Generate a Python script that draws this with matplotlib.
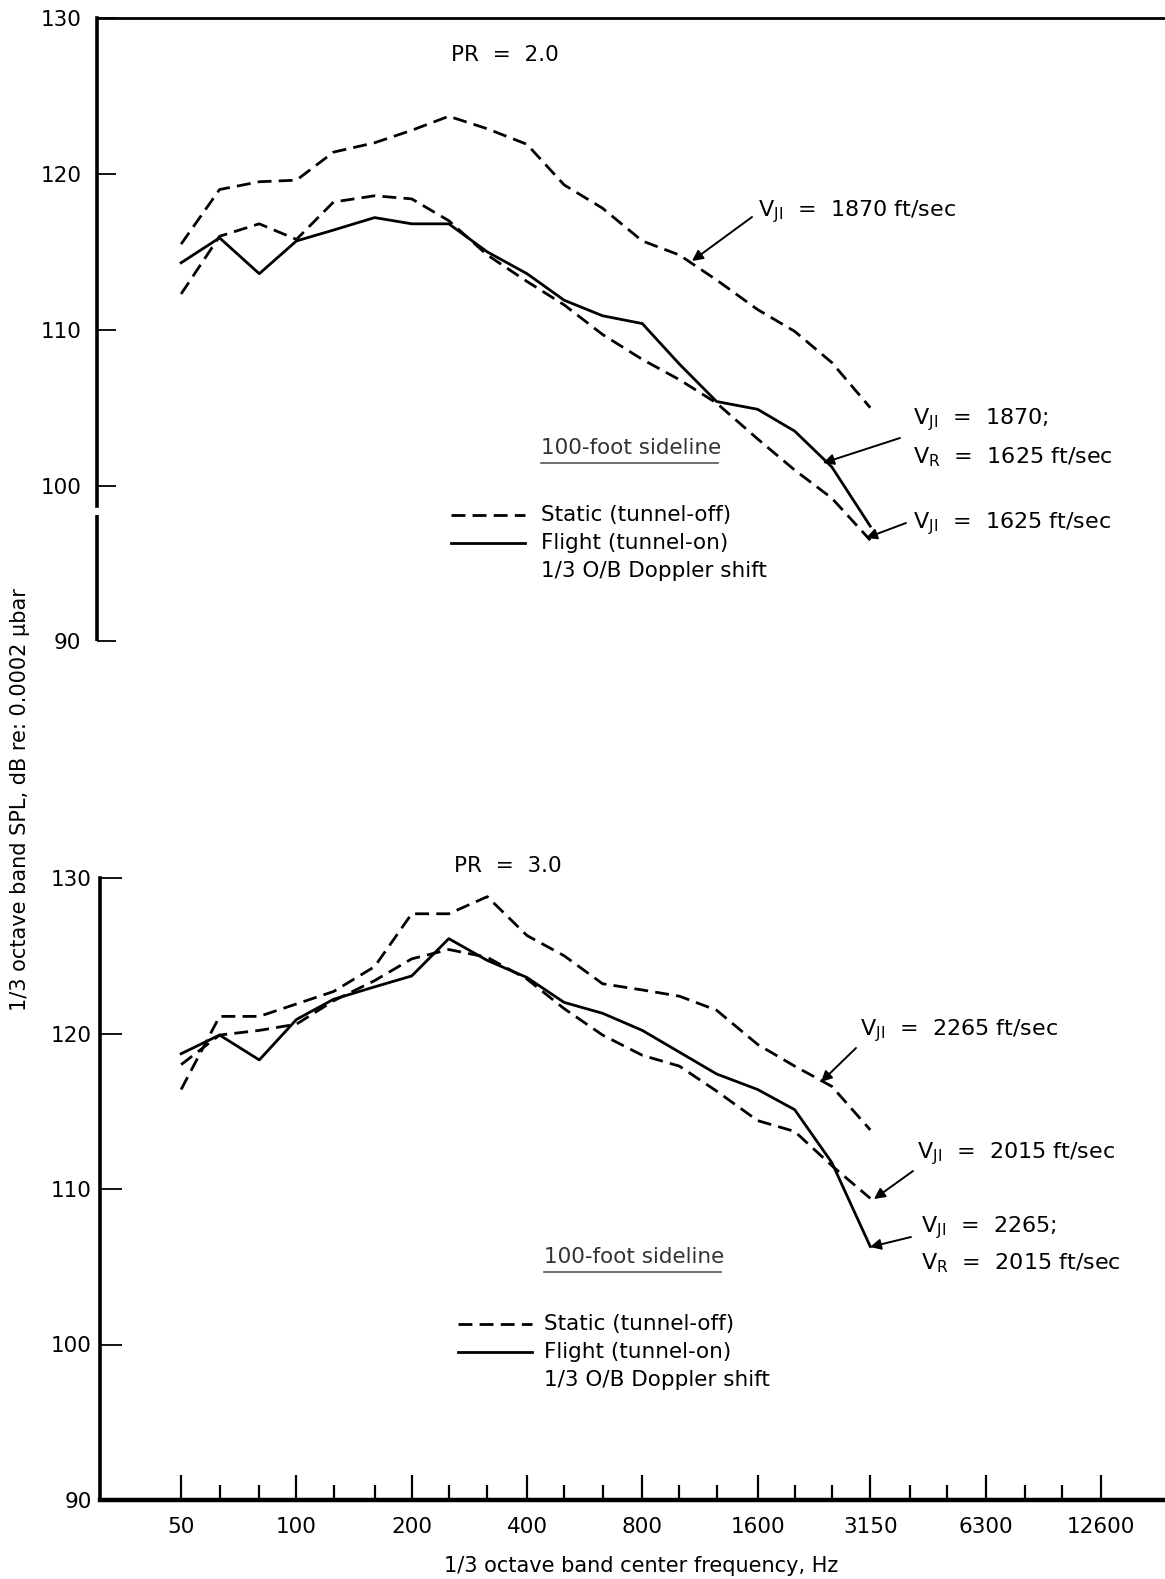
import matplotlib
matplotlib.use('Agg')
import matplotlib.pyplot as plt
from matplotlib.lines import Line2D
from matplotlib.ticker import FixedLocator, NullLocator, NullFormatter

plt.rcParams['font.family'] = ['DejaVu Sans']
plt.rcParams['mathtext.default'] = 'regular'

W, H = 1165, 1579

# 1/3 octave band centre frequencies, Hz
freq = [50, 63, 80, 100, 125, 160, 200, 250, 315, 400, 500, 630, 800, 1000, 1250, 1600, 2000, 2500, 3150]

# PR = 2.0
pr2_static_1870 = [115.5, 119.0, 119.5, 119.6, 121.4, 122.0, 122.8, 123.7, 122.9, 121.9, 119.3,
                   117.8, 115.7, 114.8, 113.2, 111.3, 109.9, 107.9, 105.0]
pr2_static_1625 = [112.3, 116.0, 116.8, 115.8, 118.2, 118.6, 118.4, 117.0, 114.8, 113.1, 111.6,
                   109.7, 108.1, 106.8, 105.3, 103.0, 101.0, 99.2, 96.5]
pr2_flight = [114.3, 115.9, 113.6, 115.7, 116.4, 117.2, 116.8, 116.8, 115.0, 113.6, 111.9,
              110.9, 110.4, 107.8, 105.4, 104.9, 103.5, 101.2, 97.4]

# PR = 3.0
pr3_static_2265 = [116.4, 121.1, 121.1, 121.9, 122.7, 124.3, 127.7, 127.7, 128.8, 126.3, 125.0,
                   123.2, 122.8, 122.4, 121.5, 119.3, 117.9, 116.6, 113.8]
pr3_static_2015 = [118.0, 119.9, 120.2, 120.6, 122.1, 123.4, 124.8, 125.4, 124.9, 123.5, 121.6,
                   119.9, 118.6, 117.9, 116.3, 114.4, 113.7, 111.5, 109.4]
pr3_flight = [118.7, 119.9, 118.3, 120.9, 122.2, 123.0, 123.7, 126.1, 124.7, 123.6, 122.0,
              121.3, 120.2, 118.8, 117.4, 116.4, 115.1, 111.7, 106.3]

# axis ticks
major_freq = [50, 100, 200, 400, 800, 1600, 3150, 6300, 12600]
major_lbl = ['50', '100', '200', '400', '800', '1600', '3150', '6300', '12600']
minor_freq = [63, 80, 125, 160, 250, 315, 500, 630, 1000, 1250, 2000, 2500, 4000, 5000, 8000, 10000]
db_ticks = [90, 100, 110, 120, 130]

DASH = (0, (5, 2.6))
LW = 2.0
FS = 15.5   # tick labels / legend
FA = 16     # velocity callouts


def fx(x):
    return x / W


def fy(y):
    return 1 - y / H


fig = plt.figure(figsize=(W / 100, H / 100), dpi=100)
ax1 = fig.add_axes([fx(96.7), fy(641.5), 1 - fx(96.7), (641.5 - 18.1) / H])
ax2 = fig.add_axes([fx(100), fy(1500), 1 - fx(100), (1500 - 878) / H])

# curves
ax1.plot(freq, pr2_static_1870, color='k', lw=LW, linestyle=DASH)
ax1.plot(freq, pr2_static_1625, color='k', lw=LW, linestyle=DASH)
ax1.plot(freq, pr2_flight, color='k', lw=LW)

ax2.plot(freq, pr3_static_2265, color='k', lw=LW, linestyle=DASH)
ax2.plot(freq, pr3_static_2015, color='k', lw=LW, linestyle=DASH)
ax2.plot(freq, pr3_flight, color='k', lw=LW)

for ax, left in ((ax1, 30.1), (ax2, 30.7)):
    ax.set_xscale('log')
    ax.set_xlim(left, 18530)
    ax.set_ylim(90, 130)
    ax.set_yticks(db_ticks)
    ax.set_yticklabels([str(v) for v in db_ticks], fontsize=FS)
    ax.spines['right'].set_visible(False)
    ax.patch.set_alpha(0)

# top panel: no x axis, top border, broken left axis
ax1.xaxis.set_major_locator(NullLocator())
ax1.xaxis.set_minor_locator(NullLocator())
ax1.xaxis.set_minor_formatter(NullFormatter())
ax1.spines['bottom'].set_visible(False)
ax1.spines['top'].set_linewidth(2.0)
ax1.spines['left'].set_linewidth(2.6)
ax1.spines['left'].set_bounds(98.7, 130)
ax1.plot([0, 0], [90, 98.1], transform=ax1.get_yaxis_transform(), color='k', lw=2.6,
         clip_on=False, solid_capstyle='butt')
ax1.tick_params(axis='y', direction='in', length=14, width=1.3, pad=11)

# bottom panel
ax2.spines['top'].set_visible(False)
ax2.spines['left'].set_linewidth(2.6)
ax2.spines['bottom'].set_linewidth(3.2)
ax2.xaxis.set_major_locator(FixedLocator(major_freq))
ax2.set_xticklabels(major_lbl, fontsize=FS)
ax2.xaxis.set_minor_locator(FixedLocator(minor_freq))
ax2.xaxis.set_minor_formatter(NullFormatter())
ax2.tick_params(axis='x', which='major', direction='in', length=18, width=1.6, pad=12)
ax2.tick_params(axis='x', which='minor', direction='in', length=11, width=1.6)
ax2.tick_params(axis='y', direction='in', length=16, width=1.3, pad=6)

# axis titles
fig.text(fx(20), fy(800), '1/3 octave band SPL, dB re: 0.0002 \u03bcbar', rotation=90,
         ha='center', va='center', fontsize=15)
fig.text(fx(641), fy(1566), '1/3 octave band center frequency, Hz', ha='center', va='center',
         fontsize=15)


def label(x, y, s):
    fig.text(fx(x), fy(y), s, ha='left', va='center', fontsize=FA)


def arrow(x0, y0, x1, y1):
    ax2.annotate('', xy=(fx(x1), fy(y1)), xytext=(fx(x0), fy(y0)), xycoords='figure fraction',
                 textcoords='figure fraction', annotation_clip=False,
                 arrowprops=dict(arrowstyle='-|>', color='k', lw=1.4, mutation_scale=16,
                                 shrinkA=0, shrinkB=0))


def key(y0, x_line, x_text):
    # sideline title + legend block
    fig.text(fx(x_text), fy(y0), '100-foot sideline', ha='left', va='center', fontsize=FS,
             color='#333333')
    fig.add_artist(Line2D([fx(x_text), fx(x_text + 177)], [fy(y0 + 15), fy(y0 + 15)],
                          transform=fig.transFigure, color='#555555', lw=1.2))
    fig.add_artist(Line2D([fx(x_line), fx(x_line + 74)], [fy(y0 + 67), fy(y0 + 67)],
                          transform=fig.transFigure, color='k', lw=LW, linestyle=DASH))
    fig.add_artist(Line2D([fx(x_line), fx(x_line + 74)], [fy(y0 + 95), fy(y0 + 95)],
                          transform=fig.transFigure, color='k', lw=LW))
    fig.text(fx(x_text), fy(y0 + 67), 'Static (tunnel-off)', ha='left', va='center', fontsize=FS)
    fig.text(fx(x_text), fy(y0 + 95), 'Flight (tunnel-on)', ha='left', va='center', fontsize=FS)
    fig.text(fx(x_text), fy(y0 + 123), '1/3 O/B Doppler shift', ha='left', va='center', fontsize=FS)


# top panel annotations
fig.text(fx(505), fy(55), 'PR  =  2.0', ha='center', va='center', fontsize=FS)
label(758, 212, r'$V_{JI}$  =  1870 ft/sec')
arrow(752, 217, 692, 261)
label(913, 420, r'$V_{JI}$  =  1870;')
label(913, 457, r'$V_R$  =  1625 ft/sec')
arrow(900, 438, 823, 463)
label(913, 524, r'$V_{JI}$  =  1625 ft/sec')
arrow(906, 523, 866, 538)
key(448, 451, 541)

# bottom panel annotations
fig.text(fx(508), fy(866), 'PR  =  3.0', ha='center', va='center', fontsize=FS)
label(860, 1031, r'$V_{JI}$  =  2265 ft/sec')
arrow(856, 1048, 821, 1082)
label(917, 1154, r'$V_{JI}$  =  2015 ft/sec')
arrow(913, 1171, 874, 1199)
label(921, 1228, r'$V_{JI}$  =  2265;')
label(921, 1263, r'$V_R$  =  2015 ft/sec')
arrow(911, 1237, 870, 1247)
key(1257, 458, 544)

fig.savefig('out.png', dpi=100)
